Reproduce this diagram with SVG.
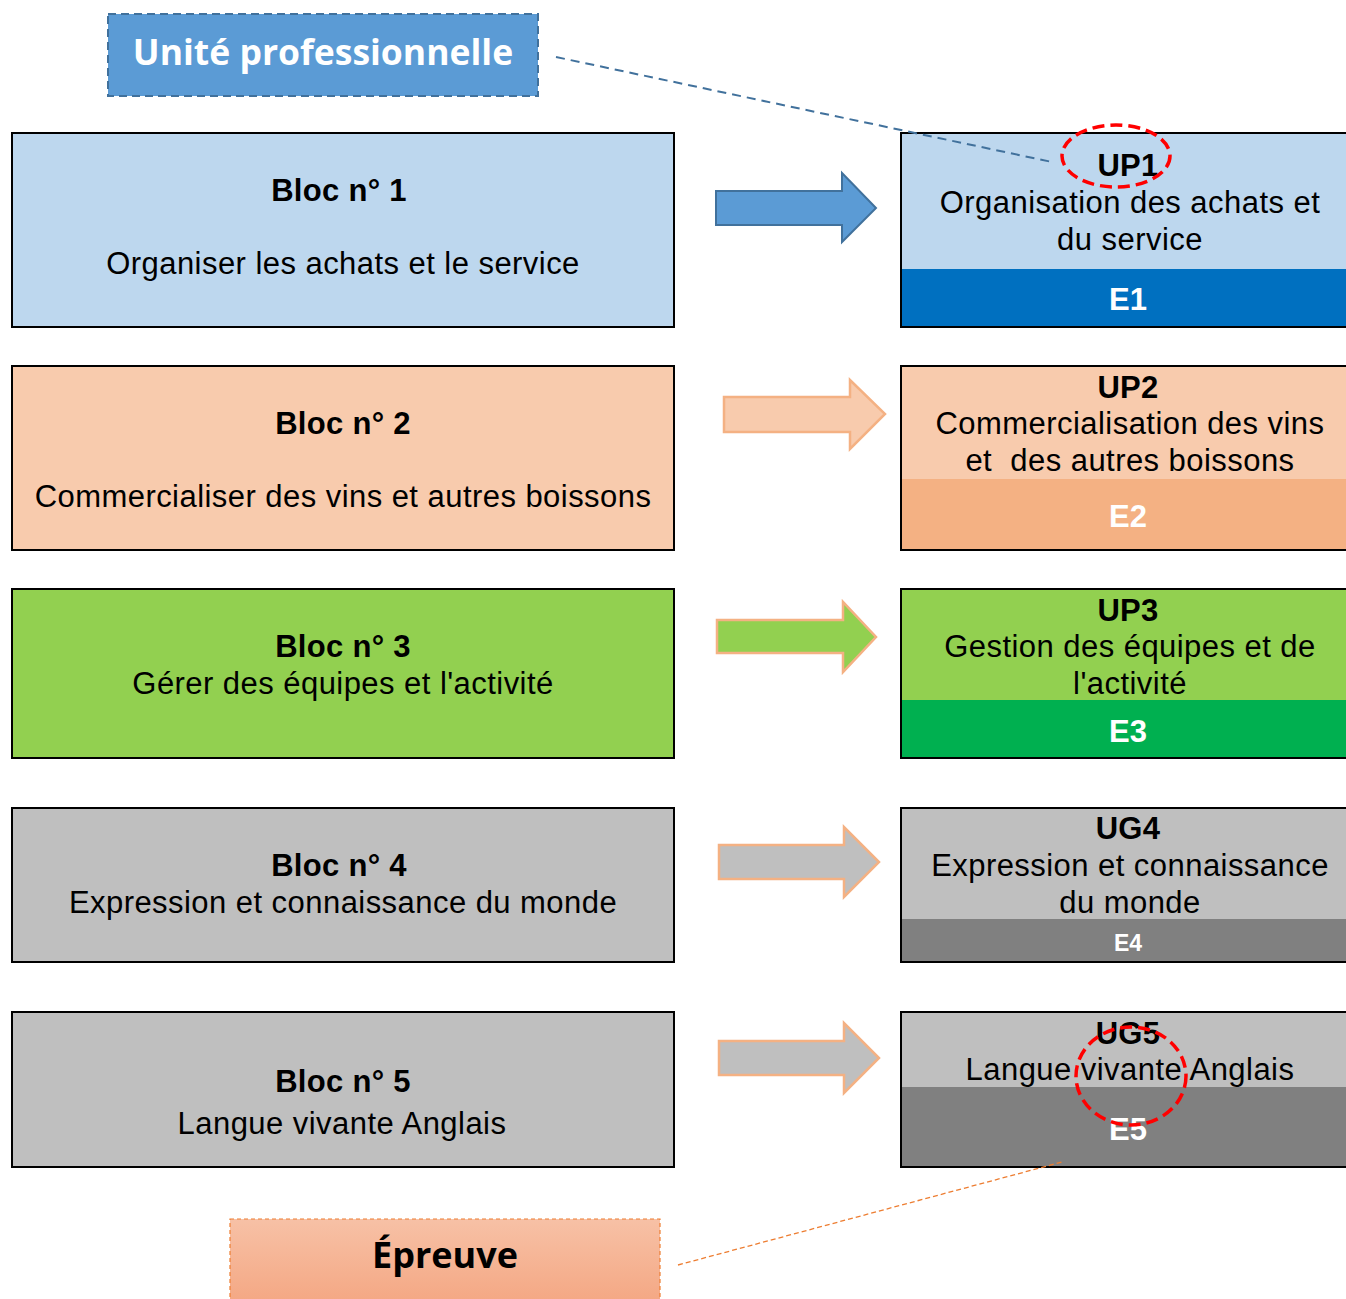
<svg xmlns="http://www.w3.org/2000/svg" width="1346" height="1299" viewBox="0 0 1346 1299">
  <defs>
    <style>
      .box { stroke: #000; stroke-width: 2; }
      .t { font-family: "Liberation Sans", Arial, sans-serif; font-size: 31px; letter-spacing: 0.45px; fill: #000; text-anchor: middle; }
      .b { font-weight: bold; letter-spacing: 0.3px; }
      .w { fill: #fff; font-weight: bold; letter-spacing: 0; }
      .callout { font-family: "Open Sans", "Lato", sans-serif; font-weight: bold; text-anchor: middle; }
      .ring { fill: none; stroke: #FF0000; stroke-width: 3.5; stroke-dasharray: 12 6; }
    </style>
    <linearGradient id="epreuveFill" x1="0" y1="0" x2="0" y2="1">
      <stop offset="0" stop-color="#F7C1A6"/>
      <stop offset="1" stop-color="#F4A783"/>
    </linearGradient>
  </defs>

  <rect width="1346" height="1299" fill="#fff"/>

  <!-- Callout: Unité professionnelle -->
  <g id="unite-professionnelle">
    <rect x="108" y="14" width="430" height="82" fill="#5B9BD5" stroke="#41719C" stroke-width="2" stroke-dasharray="8 5"/>
    <text x="323" y="65" class="callout" fill="#fff" font-size="35.5">Unité professionnelle</text>
  </g>

  <!-- Callout: Épreuve -->
  <g id="epreuve">
    <rect x="230" y="1219" width="430" height="85" fill="url(#epreuveFill)" stroke="#ED7D31" stroke-width="1.2" stroke-dasharray="4 3"/>
    <text x="445" y="1268" class="callout" fill="#000" font-size="36">Épreuve</text>
  </g>

  <!-- Blocs (left column) -->
  <g id="bloc1">
    <rect class="box" x="12" y="133" width="662" height="194" fill="#BDD7EE"/>
    <text class="t b" x="339" y="201">Bloc n° 1</text>
    <text class="t" x="343" y="274">Organiser les achats et le service</text>
  </g>
  <g id="bloc2">
    <rect class="box" x="12" y="366" width="662" height="184" fill="#F8CBAD"/>
    <text class="t b" x="343" y="434">Bloc n° 2</text>
    <text class="t" x="343" y="507">Commercialiser des vins et autres boissons</text>
  </g>
  <g id="bloc3">
    <rect class="box" x="12" y="589" width="662" height="169" fill="#92D050"/>
    <text class="t b" x="343" y="657">Bloc n° 3</text>
    <text class="t" x="343" y="694">Gérer des équipes et l'activité</text>
  </g>
  <g id="bloc4">
    <rect class="box" x="12" y="808" width="662" height="154" fill="#BFBFBF"/>
    <text class="t b" x="339" y="876">Bloc n° 4</text>
    <text class="t" x="343" y="913">Expression et connaissance du monde</text>
  </g>
  <g id="bloc5">
    <rect class="box" x="12" y="1012" width="662" height="155" fill="#BFBFBF"/>
    <text class="t b" x="343" y="1092">Bloc n° 5</text>
    <text class="t" x="342" y="1134">Langue vivante Anglais</text>
  </g>

  <!-- Units (right column) -->
  <g id="up1">
    <rect x="901" y="133" width="460" height="136" fill="#BDD7EE"/>
    <rect x="901" y="269" width="460" height="58" fill="#0070C0"/>
    <rect class="box" x="901" y="133" width="460" height="194" fill="none"/>
    <text class="t b" x="1128" y="176">UP1</text>
    <text class="t" x="1130" y="213">Organisation des achats et</text>
    <text class="t" x="1130" y="250">du service</text>
    <text class="t w" x="1128" y="310">E1</text>
  </g>
  <g id="up2">
    <rect x="901" y="366" width="460" height="113" fill="#F8CBAD"/>
    <rect x="901" y="479" width="460" height="71" fill="#F4B183"/>
    <rect class="box" x="901" y="366" width="460" height="184" fill="none"/>
    <text class="t b" x="1128" y="398">UP2</text>
    <text class="t" x="1130" y="434">Commercialisation des vins</text>
    <text class="t" x="1130" y="471" xml:space="preserve">et  des autres boissons</text>
    <text class="t w" x="1128" y="527">E2</text>
  </g>
  <g id="up3">
    <rect x="901" y="589" width="460" height="111" fill="#92D050"/>
    <rect x="901" y="700" width="460" height="58" fill="#00B050"/>
    <rect class="box" x="901" y="589" width="460" height="169" fill="none"/>
    <text class="t b" x="1128" y="621">UP3</text>
    <text class="t" x="1130" y="657">Gestion des équipes et de</text>
    <text class="t" x="1130" y="694">l'activité</text>
    <text class="t w" x="1128" y="742">E3</text>
  </g>
  <g id="ug4">
    <rect x="901" y="808" width="460" height="111" fill="#BFBFBF"/>
    <rect x="901" y="919" width="460" height="43" fill="#808080"/>
    <rect class="box" x="901" y="808" width="460" height="154" fill="none"/>
    <text class="t b" x="1128" y="839">UG4</text>
    <text class="t" x="1130" y="876">Expression et connaissance</text>
    <text class="t" x="1130" y="913">du monde</text>
    <text class="t w" x="1128" y="951" style="font-size:23px">E4</text>
  </g>
  <g id="ug5">
    <rect x="901" y="1012" width="460" height="75" fill="#BFBFBF"/>
    <rect x="901" y="1087" width="460" height="80" fill="#808080"/>
    <rect class="box" x="901" y="1012" width="460" height="155" fill="none"/>
    <text class="t b" x="1128" y="1044">UG5</text>
    <text class="t" x="1130" y="1080">Langue vivante Anglais</text>
    <text class="t w" x="1128" y="1140">E5</text>
  </g>

  <!-- Connectors: block arrows and callout leaders -->
  <g id="connectors">
    <polygon points="716,191 842,191 842,173 876,208 842,242 842,225 716,225" fill="#5B9BD5" stroke="#41719C" stroke-width="2"/>
    <polygon points="724,397 850,397 850,380 885,414 850,449 850,432 724,432" fill="#F8CBAD" stroke="#F4B183" stroke-width="2.5"/>
    <polygon points="717,620 843,620 843,602 876,637 843,672 843,653 717,653" fill="#92D050" stroke="#F4B183" stroke-width="2.5"/>
    <polygon points="719,845 844,845 844,827 879,862 844,897 844,879 719,879" fill="#BFBFBF" stroke="#F4B183" stroke-width="2.5"/>
    <polygon points="719,1041 844,1041 844,1023 879,1058 844,1093 844,1075 719,1075" fill="#BFBFBF" stroke="#F4B183" stroke-width="2.5"/>

    <line x1="556" y1="57" x2="1052" y2="162" stroke="#41719C" stroke-width="2" stroke-dasharray="9 6"/>
    <line x1="678" y1="1265" x2="1062" y2="1162" stroke="#ED7D31" stroke-width="1.3" stroke-dasharray="5 3"/>

    <ellipse class="ring" cx="1116" cy="156" rx="54" ry="31"/>
    <ellipse class="ring" cx="1131" cy="1076" rx="55" ry="49"/>
  </g>
</svg>
